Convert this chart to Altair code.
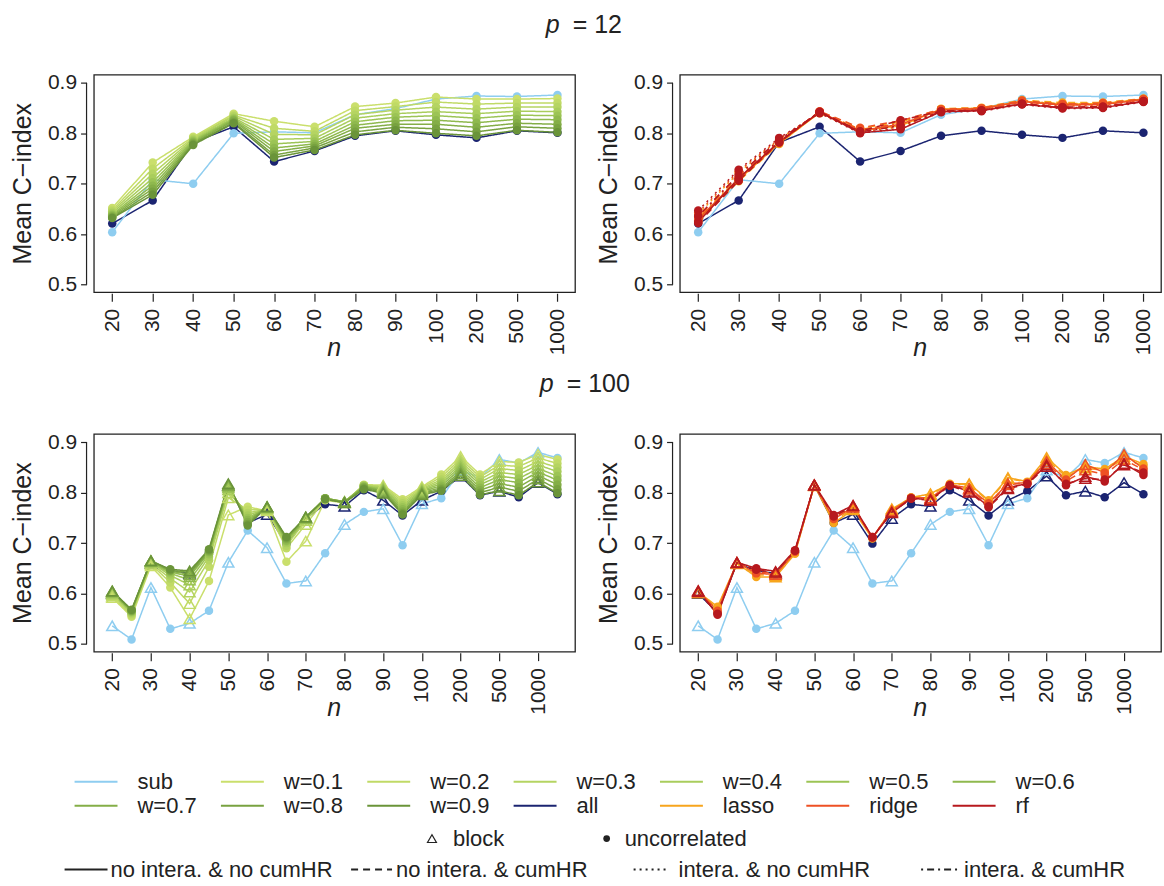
import altair as alt
import pandas as pd

# ---------------- data ----------------
N_LABELS = ['20', '30', '40', '50', '60', '70', '80', '90', '100', '200', '500', '1000']

SERIES = ['sub', 'w=0.1', 'w=0.2', 'w=0.3', 'w=0.4', 'w=0.5', 'w=0.6',
          'w=0.7', 'w=0.8', 'w=0.9', 'all', 'lasso', 'ridge', 'rf']
COLORS = ['#8ECDF0', '#CADF6C', '#C0DA66', '#B5D462', '#A9CD5C', '#9CC455', '#8FB94E',
          '#84AE47', '#78A240', '#6A9439', '#1B2471', '#F7A51C', '#EE5124', '#B7191E']
LTYPES = ['solid', 'dashed', 'dotted', 'dotdash']
DASHES = [[1, 0], [7, 5], [2, 4], [2, 4, 7, 4]]
LTYPE_LABELS = ['no intera. & no cumHR', 'no intera. & cumHR', 'intera. & no cumHR', 'intera. & cumHR']

# p = 12 (uncorrelated design only)
TOP_SUB = [0.604, 0.708, 0.700, 0.800, 0.803, 0.801, 0.837, 0.849, 0.868, 0.874, 0.873, 0.876]
TOP_ALL = [0.621, 0.667, 0.782, 0.813, 0.744, 0.765, 0.795, 0.805, 0.797, 0.791, 0.805, 0.801]
TOP_W = {
    'w=0.1': [0.652, 0.742, 0.793, 0.839, 0.824, 0.813, 0.853, 0.860, 0.872, 0.868, 0.868, 0.869],
    'w=0.2': [0.648, 0.730, 0.791, 0.836, 0.810, 0.804, 0.845, 0.853, 0.862, 0.858, 0.860, 0.860],
    'w=0.3': [0.645, 0.720, 0.789, 0.834, 0.798, 0.797, 0.837, 0.846, 0.852, 0.848, 0.852, 0.852],
    'w=0.4': [0.642, 0.711, 0.787, 0.831, 0.788, 0.790, 0.830, 0.839, 0.843, 0.839, 0.844, 0.843],
    'w=0.5': [0.639, 0.703, 0.785, 0.829, 0.779, 0.784, 0.823, 0.832, 0.835, 0.830, 0.836, 0.835],
    'w=0.6': [0.637, 0.696, 0.783, 0.827, 0.771, 0.779, 0.816, 0.825, 0.826, 0.821, 0.828, 0.827],
    'w=0.7': [0.635, 0.690, 0.781, 0.825, 0.764, 0.775, 0.810, 0.818, 0.818, 0.812, 0.820, 0.818],
    'w=0.8': [0.633, 0.684, 0.779, 0.822, 0.757, 0.771, 0.803, 0.812, 0.809, 0.803, 0.813, 0.810],
    'w=0.9': [0.632, 0.678, 0.777, 0.820, 0.752, 0.767, 0.797, 0.806, 0.800, 0.795, 0.806, 0.802],
}
TOP_MODELS = {
    ('lasso', 'solid'):   [0.628, 0.708, 0.780, 0.841, 0.806, 0.815, 0.848, 0.850, 0.864, 0.858, 0.859, 0.868],
    ('lasso', 'dashed'):  [0.625, 0.705, 0.779, 0.843, 0.810, 0.822, 0.849, 0.851, 0.866, 0.861, 0.861, 0.869],
    ('lasso', 'dotted'):  [0.640, 0.722, 0.788, 0.840, 0.804, 0.812, 0.846, 0.848, 0.862, 0.856, 0.857, 0.867],
    ('lasso', 'dotdash'): [0.632, 0.712, 0.784, 0.842, 0.808, 0.818, 0.847, 0.849, 0.863, 0.859, 0.860, 0.868],
    ('ridge', 'solid'):   [0.630, 0.710, 0.782, 0.842, 0.805, 0.818, 0.847, 0.849, 0.863, 0.856, 0.857, 0.867],
    ('ridge', 'dashed'):  [0.627, 0.707, 0.781, 0.844, 0.811, 0.825, 0.848, 0.850, 0.865, 0.858, 0.860, 0.868],
    ('ridge', 'dotted'):  [0.643, 0.725, 0.789, 0.841, 0.803, 0.814, 0.845, 0.847, 0.861, 0.854, 0.855, 0.866],
    ('ridge', 'dotdash'): [0.635, 0.715, 0.785, 0.843, 0.807, 0.820, 0.846, 0.848, 0.862, 0.857, 0.858, 0.867],
    ('rf', 'solid'):      [0.624, 0.711, 0.783, 0.842, 0.801, 0.808, 0.843, 0.845, 0.858, 0.850, 0.851, 0.863],
    ('rf', 'dashed'):     [0.622, 0.706, 0.782, 0.843, 0.804, 0.826, 0.844, 0.846, 0.859, 0.852, 0.853, 0.864],
    ('rf', 'dotted'):     [0.647, 0.728, 0.791, 0.840, 0.800, 0.810, 0.842, 0.844, 0.857, 0.849, 0.850, 0.862],
    ('rf', 'dotdash'):    [0.636, 0.718, 0.787, 0.842, 0.803, 0.815, 0.843, 0.845, 0.858, 0.851, 0.852, 0.863],
}

# p = 100 : for each n a block (triangle) then an uncorrelated (dot) result
BOT_DESIGN = ['block', 'uncorrelated'] * 12
BOT_SUB = [0.536, 0.509, 0.612, 0.530, 0.541, 0.566, 0.662, 0.725, 0.691, 0.620, 0.625, 0.680,
           0.737, 0.762, 0.768, 0.696, 0.778, 0.789, 0.845, 0.830, 0.866, 0.859, 0.880, 0.869]
BOT_ALL = [0.600, 0.562, 0.660, 0.645, 0.640, 0.682, 0.815, 0.740, 0.757, 0.699, 0.749, 0.777,
           0.773, 0.805, 0.785, 0.755, 0.785, 0.803, 0.833, 0.795, 0.803, 0.791, 0.820, 0.797]
BOT_W = {
    'w=0.1': [0.592, 0.554, 0.655, 0.612, 0.550, 0.625, 0.756, 0.772, 0.764, 0.663, 0.704, 0.785,
              0.780, 0.816, 0.815, 0.787, 0.812, 0.836, 0.872, 0.836, 0.862, 0.860, 0.876, 0.866],
    'w=0.2': [0.595, 0.557, 0.658, 0.622, 0.580, 0.653, 0.790, 0.766, 0.766, 0.690, 0.737, 0.786,
              0.781, 0.815, 0.813, 0.783, 0.810, 0.831, 0.867, 0.831, 0.855, 0.852, 0.869, 0.858],
    'w=0.3': [0.598, 0.560, 0.660, 0.630, 0.603, 0.666, 0.800, 0.760, 0.768, 0.695, 0.745, 0.787,
              0.781, 0.815, 0.811, 0.779, 0.808, 0.826, 0.862, 0.826, 0.848, 0.844, 0.862, 0.850],
    'w=0.4': [0.600, 0.562, 0.662, 0.636, 0.617, 0.673, 0.806, 0.755, 0.769, 0.700, 0.748, 0.788,
              0.782, 0.814, 0.809, 0.775, 0.806, 0.822, 0.857, 0.821, 0.840, 0.836, 0.855, 0.842],
    'w=0.5': [0.602, 0.564, 0.663, 0.640, 0.627, 0.678, 0.810, 0.750, 0.770, 0.703, 0.749, 0.789,
              0.782, 0.813, 0.807, 0.771, 0.804, 0.818, 0.852, 0.816, 0.833, 0.828, 0.848, 0.833],
    'w=0.6': [0.603, 0.565, 0.664, 0.643, 0.634, 0.682, 0.813, 0.746, 0.771, 0.705, 0.750, 0.789,
              0.782, 0.812, 0.805, 0.767, 0.802, 0.814, 0.847, 0.810, 0.826, 0.820, 0.841, 0.825],
    'w=0.7': [0.604, 0.566, 0.665, 0.645, 0.638, 0.684, 0.815, 0.742, 0.772, 0.708, 0.751, 0.789,
              0.782, 0.811, 0.803, 0.763, 0.800, 0.810, 0.842, 0.805, 0.818, 0.811, 0.834, 0.816],
    'w=0.8': [0.605, 0.567, 0.665, 0.646, 0.642, 0.686, 0.816, 0.738, 0.772, 0.710, 0.752, 0.788,
              0.781, 0.809, 0.801, 0.760, 0.798, 0.807, 0.838, 0.800, 0.811, 0.803, 0.827, 0.807],
    'w=0.9': [0.605, 0.568, 0.665, 0.648, 0.645, 0.688, 0.818, 0.735, 0.772, 0.712, 0.752, 0.787,
              0.780, 0.807, 0.799, 0.757, 0.796, 0.804, 0.834, 0.796, 0.804, 0.795, 0.821, 0.799],
}
BOT_MODELS = {
    ('lasso', 'solid'):  [0.603, 0.574, 0.660, 0.633, 0.633, 0.679, 0.815, 0.740, 0.766, 0.709, 0.768, 0.790,
                          0.798, 0.818, 0.818, 0.785, 0.830, 0.822, 0.870, 0.835, 0.852, 0.847, 0.872, 0.857],
    ('lasso', 'dashed'): [0.601, 0.571, 0.659, 0.637, 0.636, 0.681, 0.814, 0.745, 0.768, 0.710, 0.766, 0.791,
                          0.796, 0.817, 0.816, 0.783, 0.828, 0.821, 0.866, 0.832, 0.849, 0.844, 0.868, 0.853],
    ('ridge', 'solid'):  [0.605, 0.566, 0.662, 0.640, 0.638, 0.683, 0.816, 0.748, 0.771, 0.711, 0.764, 0.790,
                          0.790, 0.816, 0.809, 0.779, 0.818, 0.820, 0.862, 0.826, 0.856, 0.840, 0.876, 0.848],
    ('ridge', 'dashed'): [0.603, 0.563, 0.661, 0.643, 0.640, 0.684, 0.815, 0.751, 0.772, 0.712, 0.763, 0.789,
                          0.788, 0.815, 0.807, 0.777, 0.816, 0.819, 0.858, 0.823, 0.845, 0.836, 0.866, 0.845],
    ('rf', 'solid'):     [0.606, 0.558, 0.662, 0.650, 0.644, 0.686, 0.816, 0.756, 0.775, 0.712, 0.760, 0.789,
                          0.786, 0.815, 0.803, 0.773, 0.810, 0.818, 0.855, 0.815, 0.832, 0.822, 0.858, 0.835],
    ('rf', 'dashed'):    [0.604, 0.560, 0.661, 0.647, 0.642, 0.685, 0.815, 0.753, 0.774, 0.711, 0.761, 0.788,
                          0.785, 0.814, 0.801, 0.771, 0.808, 0.817, 0.852, 0.818, 0.828, 0.826, 0.855, 0.840],
}

LEG_ROW1 = ['sub', 'w=0.1', 'w=0.2', 'w=0.3', 'w=0.4', 'w=0.5', 'w=0.6']
LEG_ROW2 = ['w=0.7', 'w=0.8', 'w=0.9', 'all', 'lasso', 'ridge', 'rf']

# ---------------- helpers ----------------
FONT = 'Liberation Sans'
INK = '#222222'
COLOR_OF = dict(zip(SERIES, COLORS))


def long_rows(series, ltype, vals, designs):
    return [dict(series=series, ltype=ltype, key=series + '|' + ltype, i=i, v=v, design=d)
            for i, (v, d) in enumerate(zip(vals, designs))]


top_design = ['uncorrelated'] * 12

# drawing order: all, sub, then the other series (later ones on top)
tl_rows = long_rows('all', 'solid', TOP_ALL, top_design) + long_rows('sub', 'solid', TOP_SUB, top_design)
for k, vals in TOP_W.items():
    tl_rows += long_rows(k, 'solid', vals, top_design)

tr_rows = long_rows('all', 'solid', TOP_ALL, top_design) + long_rows('sub', 'solid', TOP_SUB, top_design)
for (m, lt), vals in TOP_MODELS.items():
    tr_rows += long_rows(m, lt, vals, top_design)

bl_rows = long_rows('all', 'solid', BOT_ALL, BOT_DESIGN) + long_rows('sub', 'solid', BOT_SUB, BOT_DESIGN)
for k, vals in BOT_W.items():
    bl_rows += long_rows(k, 'solid', vals, BOT_DESIGN)

br_rows = long_rows('all', 'solid', BOT_ALL, BOT_DESIGN) + long_rows('sub', 'solid', BOT_SUB, BOT_DESIGN)
for (m, lt), vals in BOT_MODELS.items():
    br_rows += long_rows(m, lt, vals, BOT_DESIGN)

W, H = 482, 218
YDOM = [0.4848, 0.9164]
label_arr = '[' + ','.join("'%s'" % s for s in N_LABELS) + ']'


def panel(rows, xdom, tick_vals, label_expr):
    df = pd.DataFrame(rows)
    xs = alt.Scale(domain=xdom, nice=False, zero=False)
    ys = alt.Scale(domain=YDOM, nice=False, zero=False)
    xaxis = alt.Axis(values=tick_vals, labelExpr=label_expr, labelAngle=270, labelFontSize=21,
                     labelFont=FONT, labelColor=INK, labelPadding=7, tickSize=8, tickColor=INK,
                     tickWidth=1.2, offset=1, domain=False, grid=False, title=None,
                     labelFlush=False, labelOverlap=False)
    yaxis = alt.Axis(values=[0.5, 0.6, 0.7, 0.8, 0.9], format='.1f', labelFontSize=21,
                     labelFont=FONT, labelColor=INK, labelPadding=4, tickSize=6, tickColor=INK,
                     tickWidth=1.2, offset=7.3, domain=False, grid=False, title=None,
                     labelFlush=False, labelOverlap=False)
    X = alt.X('i:Q', scale=xs, axis=xaxis)
    Y = alt.Y('v:Q', scale=ys, axis=yaxis)
    col = alt.Color('series:N', scale=alt.Scale(domain=SERIES, range=COLORS), legend=None)
    base = alt.Chart(df)
    lines = base.mark_line(strokeWidth=1.5).encode(
        X, Y, col,
        strokeDash=alt.StrokeDash('ltype:N', scale=alt.Scale(domain=LTYPES, range=DASHES), legend=None),
        detail='key:N')
    dots = base.transform_filter(alt.datum.design == 'uncorrelated').mark_circle(
        size=72, opacity=1).encode(X, Y, col)
    tris = base.transform_filter(alt.datum.design == 'block').mark_point(
        shape='triangle-up', filled=False, size=120, strokeWidth=1.5, opacity=1).encode(X, Y, col)
    yline = alt.Chart(pd.DataFrame({'a': [0.5], 'b': [0.9]})).mark_rule(
        color=INK, strokeWidth=1.2).encode(x=alt.value(-7.3), y=alt.Y('a:Q', scale=ys, axis=yaxis), y2='b:Q')
    return alt.layer(yline, lines, tris, dots).properties(
        width=W, height=H, view=alt.ViewBackground(stroke=INK, strokeWidth=1.3))


top_expr = label_arr + '[datum.value]'
bot_expr = label_arr + '[datum.value/2]'
tl = panel(tl_rows, [-0.454, 11.434], list(range(12)), top_expr)
tr = panel(tr_rows, [-0.454, 11.434], list(range(12)), top_expr)
bl = panel(bl_rows, [-0.949, 23.908], list(range(0, 24, 2)), bot_expr)
br = panel(br_rows, [-0.949, 23.908], list(range(0, 24, 2)), bot_expr)

# ---------------- overlay (titles, axis titles, legend) in page pixels ----------------
OX = alt.Scale(domain=[0, 1164], range=[-93.3, 1070.7], nice=False, zero=False)
OY = alt.Scale(domain=[0, 886], range=[-792.7, 93.3], nice=False, zero=False)


def PX(f):
    return alt.X(f + ':Q', scale=OX, axis=None)


def PY(f):
    return alt.Y(f + ':Q', scale=OY, axis=None)


anchor = alt.Chart(pd.DataFrame({'px': [0.5, 1163.5], 'py': [0.5, 885.5]})).mark_point(
    size=1, opacity=0).encode(PX('px'), PY('py'))

ital = pd.DataFrame({'px': [546, 540], 'py': [31, 391], 't': ['p', 'p']})
reg = pd.DataFrame({'px': [573, 567], 'py': [31, 391], 't': ['= 12', '= 100']})
ntitle = pd.DataFrame({'px': [334, 921, 334, 921], 'py': [355, 355, 715, 715], 't': ['n'] * 4})
ytitle = pd.DataFrame({'px': [22, 609, 22, 609], 'py': [182, 182, 542, 542], 't': ['Mean C\u2212index'] * 4})

t_ital = alt.Chart(ital).mark_text(font=FONT, fontSize=25, fontStyle='italic', align='left',
                                   baseline='alphabetic', color=INK).encode(PX('px'), PY('py'), text='t:N')
t_reg = alt.Chart(reg).mark_text(font=FONT, fontSize=25, align='left',
                                 baseline='alphabetic', color=INK).encode(PX('px'), PY('py'), text='t:N')
t_n = alt.Chart(ntitle).mark_text(font=FONT, fontSize=25, fontStyle='italic', align='center',
                                  baseline='alphabetic', color=INK).encode(PX('px'), PY('py'), text='t:N')
t_y = alt.Chart(ytitle).mark_text(font=FONT, fontSize=25, angle=270, align='center',
                                  baseline='middle', color=INK).encode(PX('px'), PY('py'), text='t:N')

leg = []
for r, names in enumerate([LEG_ROW1, LEG_ROW2]):
    for c, name in enumerate(names):
        x0 = 74 + 146.6 * c
        leg.append(dict(px=x0, px2=x0 + 43, tx=x0 + 63, py=[781, 805][r], label=name, color=COLOR_OF[name]))
legdf = pd.DataFrame(leg)
leg_lines = alt.Chart(legdf).mark_rule(strokeWidth=2).encode(
    PX('px'), x2='px2:Q', y=PY('py'), color=alt.Color('color:N', scale=None))
leg_text = alt.Chart(legdf).mark_text(font=FONT, fontSize=22, align='left', baseline='middle',
                                      color=INK).encode(PX('tx'), PY('py'), text='label:N')

ltdf = pd.DataFrame({'px': [64, 351, 634, 922], 'px2': [107, 392, 668, 959],
                     'tx': [110, 396, 679, 965], 'py': [869] * 4,
                     'label': LTYPE_LABELS, 'dash': LTYPES})
lt_lines = alt.Chart(ltdf).mark_rule(strokeWidth=2, color=INK).encode(
    PX('px'), x2='px2:Q', y=PY('py'),
    strokeDash=alt.StrokeDash('dash:N', scale=alt.Scale(domain=LTYPES, range=DASHES), legend=None))
lt_text = alt.Chart(ltdf).mark_text(font=FONT, fontSize=22, align='left', baseline='middle',
                                    color=INK).encode(PX('tx'), PY('py'), text='label:N')

symdf = pd.DataFrame({'px': [432, 607], 'tx': [453, 625], 'py': [838, 838],
                      'label': ['block', 'uncorrelated']})
sym_tri = alt.Chart(symdf).transform_filter(alt.datum.label == 'block').mark_point(
    shape='triangle-up', filled=False, size=80, strokeWidth=1.2, color=INK, opacity=1).encode(PX('px'), PY('py'))
sym_dot = alt.Chart(symdf).transform_filter(alt.datum.label == 'uncorrelated').mark_circle(
    size=45, color=INK, opacity=1).encode(PX('px'), PY('py'))
sym_text = alt.Chart(symdf).mark_text(font=FONT, fontSize=22, align='left', baseline='middle',
                                      color=INK).encode(PX('tx'), PY('py'), text='label:N')

overlay = alt.layer(anchor, t_ital, t_reg, t_n, t_y, leg_lines, leg_text, lt_lines, lt_text,
                    sym_tri, sym_dot, sym_text).properties(
    width=W, height=93.3, view=alt.ViewBackground(stroke='transparent'))

chart = alt.concat(
    tl, tr, bl, br, overlay,
    columns=2, spacing=alt.RowColnumber(row=142, column=105), bounds='flush'
).properties(padding=0, background='white').configure(font=FONT)

chart.save('out.html', embed_options={'renderer': 'svg', 'actions': False})
